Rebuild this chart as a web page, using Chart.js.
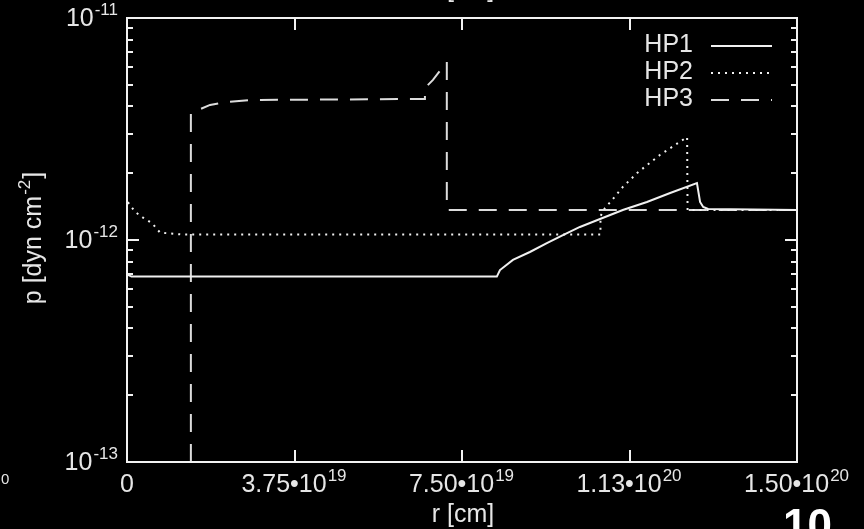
<!DOCTYPE html>
<html>
<head>
<meta charset="utf-8">
<script src="https://cdn.jsdelivr.net/npm/chart.js@4/dist/chart.umd.min.js"></script>
<style>
  html, body { margin: 0; padding: 0; background: #000; }
  canvas { display: block; }
</style>
</head>
<body>
<canvas id="canvas" width="864" height="529"></canvas>
<script>
// radius (cm) and pressure (dyn cm^-2)
const hp1R = [0, 0.1e19, 0.5e19, 8.28e19, 8.35e19, 8.64e19, 9.02e19, 9.40e19, 9.76e19, 10.14e19, 10.59e19, 11.10e19, 11.64e19, 12.16e19, 12.76e19, 12.83e19, 12.90e19, 13.01e19, 15e19]
const hp1P = [7.0e-13, 6.84e-13, 6.84e-13, 6.84e-13, 7.32e-13, 8.13e-13, 8.83e-13, 9.69e-13, 1.053e-12, 1.145e-12, 1.243e-12, 1.365e-12, 1.483e-12, 1.628e-12, 1.806e-12, 1.483e-12, 1.408e-12, 1.379e-12, 1.365e-12]

const hp2R = [0.02e19, 0.11e19, 0.18e19, 0.36e19, 0.56e19, 0.74e19, 1.2e19, 10.6e19, 10.6e19, 10.70e19, 10.86e19, 11.10e19, 11.42e19, 11.93e19, 12.54e19, 12.55e19, 15e19]
const hp2P = [1.48e-12, 1.40e-12, 1.34e-12, 1.26e-12, 1.19e-12, 1.08e-12, 1.06e-12, 1.06e-12, 1.28e-12, 1.393e-12, 1.514e-12, 1.733e-12, 2.003e-12, 2.415e-12, 2.91e-12, 1.365e-12, 1.365e-12]

const hp3R = [1.43e19, 1.43e19, 1.86e19, 2.24e19, 2.75e19, 6.67e19, 6.67e19, 6.85e19, 7.16e19, 7.16e19, 15e19]
const hp3P = [1e-13, 3.73e-12, 4.06e-12, 4.18e-12, 4.27e-12, 4.32e-12, 4.84e-12, 5.26e-12, 6.34e-12, 1.365e-12, 1.365e-12]

const seriesNames = ['HP1', 'HP2', 'HP3']

const xTickVals = [0, 3.75e19, 7.5e19, 1.125e20, 1.5e20]
const xTickLabels = [['0', ''], ['3.75\u202210', '19'], ['7.50\u202210', '19'], ['1.13\u202210', '20'], ['1.50\u202210', '20']]
const yDecades = [-13, -12, -11]

const FONT = "'Liberation Sans', Arial, sans-serif"
const TXT = '#e6e6e6'
const FS = 25

const pts = (r, p) => r.map((v, i) => ({ x: v, y: p[i] }))

// text with a raised exponent, optional trailing text
const supText = (c, base, sup, x, y, align, tail) => {
  const supFs = Math.round(FS * 0.68)
  c.font = FS + 'px ' + FONT
  const wb = c.measureText(base).width
  const wt = tail ? c.measureText(tail).width : 0
  c.font = supFs + 'px ' + FONT
  const ws = sup ? c.measureText(sup).width + 2 : 0
  const tot = wb + ws + wt
  let x0 = x
  if (align === 'center') x0 = x - tot / 2
  if (align === 'right') x0 = x - tot
  c.textAlign = 'left'
  c.textBaseline = 'alphabetic'
  c.font = FS + 'px ' + FONT
  c.fillText(base, x0, y)
  if (tail) c.fillText(tail, x0 + wb + ws, y)
  if (sup) {
    c.font = supFs + 'px ' + FONT
    c.fillText(sup, x0 + wb + 1, y - FS * 0.45)
  }
}

const gnuplotFrame = {
  id: 'gnuplotFrame',
  afterDraw(chart) {
    const c = chart.ctx
    const a = chart.chartArea
    const xs = chart.scales.x
    const ys = chart.scales.y
    c.save()
    c.strokeStyle = '#f2f2f2'
    c.lineWidth = 2
    c.strokeRect(a.left, a.top, a.right - a.left, a.bottom - a.top)

    // inward ticks like gnuplot
    c.beginPath()
    xTickVals.forEach(v => {
      const px = Math.round(xs.getPixelForValue(v))
      c.moveTo(px, a.bottom); c.lineTo(px, a.bottom - 12)
      c.moveTo(px, a.top); c.lineTo(px, a.top + 12)
    })
    yDecades.forEach(d => {
      for (let m = 1; m <= 9; m++) {
        const v = m * Math.pow(10, d)
        if (v < ys.min * 0.999 || v > ys.max * 1.001) continue
        const py = Math.round(ys.getPixelForValue(v))
        const len = m === 1 ? 12 : 6
        c.moveTo(a.left, py); c.lineTo(a.left + len, py)
        c.moveTo(a.right, py); c.lineTo(a.right - len, py)
      }
    })
    c.stroke()

    c.fillStyle = TXT
    xTickVals.forEach((v, i) => {
      const px = xs.getPixelForValue(v)
      supText(c, xTickLabels[i][0], xTickLabels[i][1], px, a.bottom + 30, 'center')
    })
    yDecades.forEach(d => {
      const py = ys.getPixelForValue(Math.pow(10, d))
      supText(c, '10', String(d), a.left - 8, py + 8, 'right')
    })

    // axis titles
    supText(c, 'r [cm]', '', (a.left + a.right) / 2 + 1, 522, 'center')
    c.save()
    c.translate(41, 238)
    c.rotate(-Math.PI / 2)
    supText(c, 'p [dyn cm', '-2', 0, 0, 'center', ']')
    c.restore()

    // legend
    chart.data.datasets.forEach((ds, i) => {
      const ly = 46 + i * 27
      c.fillStyle = TXT
      c.font = FS + 'px ' + FONT
      c.textAlign = 'right'
      c.textBaseline = 'middle'
      c.fillText(ds.label, 693, ly - 1)
      c.strokeStyle = ds.borderColor
      c.lineWidth = ds.borderWidth
      c.setLineDash(ds.borderDash)
      c.beginPath()
      c.moveTo(711, ly); c.lineTo(772, ly)
      c.stroke()
      c.setLineDash([])
    })

    // bits of neighbouring page content cut by the frame
    c.fillStyle = TXT
    c.textAlign = 'center'
    c.textBaseline = 'alphabetic'
    c.font = FS + 'px ' + FONT
    c.fillText('r [cm]', 463, -3)
    c.textAlign = 'left'
    c.font = '15px ' + FONT
    c.fillText('0', 1, 484)
    c.fillStyle = '#ffffff'
    c.font = 'bold 44px ' + FONT
    c.fillText('10', 783, 540)
    c.restore()
  }
}

new Chart(document.getElementById('canvas').getContext('2d'), {
  type: 'scatter',
  data: {
    datasets: [
      { label: seriesNames[0], data: pts(hp1R, hp1P), borderColor: '#f0f0f0', borderWidth: 2, borderDash: [] },
      { label: seriesNames[1], data: pts(hp2R, hp2P), borderColor: '#f0f0f0', borderWidth: 2, borderDash: [2, 5] },
      { label: seriesNames[2], data: pts(hp3R, hp3P), borderColor: '#dcdcdc', borderWidth: 2, borderDash: [18, 12] }
    ].map(d => Object.assign(d, { showLine: true, pointRadius: 0, fill: false, tension: 0 }))
  },
  options: {
    responsive: false,
    animation: false,
    devicePixelRatio: 1,
    layout: { padding: { left: 127, right: 67, top: 18, bottom: 67 } },
    plugins: { legend: { display: false }, tooltip: { enabled: false } },
    scales: {
      x: { type: 'linear', min: 0, max: 1.5e20, display: false },
      y: { type: 'logarithmic', min: 1e-13, max: 1e-11, display: false }
    }
  },
  plugins: [gnuplotFrame]
})
</script>
</body>
</html>
